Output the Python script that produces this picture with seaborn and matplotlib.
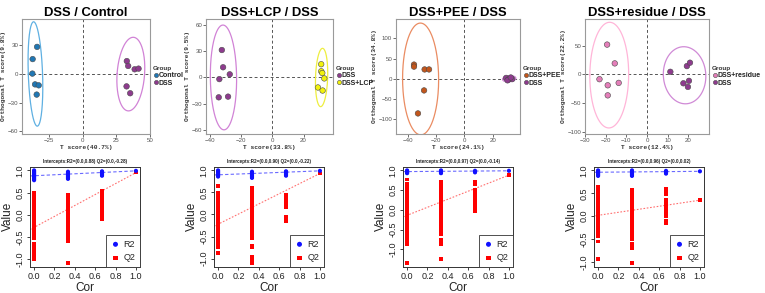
import numpy as np
import pandas as pd
import matplotlib
matplotlib.use("Agg")
import matplotlib.pyplot as plt
import seaborn as sns

sns.set_theme(style="white")
plt.rcParams['font.family'] = ['Liberation Sans', 'DejaVu Sans']

W, H = 765, 293

# ---------------- score plots (OPLS-DA) ----------------
titles = ["DSS / Control", "DSS+LCP / DSS", "DSS+PEE / DSS", "DSS+residue / DSS"]
x_labels = ["T score(40.7%)", "T score(33.8%)", "T score(24.1%)", "T score(12.4%)"]
y_labels = ["Orthogonal T score(9.8%)", "Orthogonal T score(9.5%)",
            "Orthogonal T score(34.8%)", "Orthogonal T score(22.2%)"]

p1_groups = ["Control", "DSS"]
p1_a_x = [-33.8, -37.1, -37.3, -35.3, -32.6, -34.1]
p1_a_y = [28.3, 15.5, 0.3, -11.0, -12.0, -21.7]
p1_b_x = [32.8, 33.8, 38.6, 41.5, 32.6, 35.3]
p1_b_y = [13.4, 8.3, 4.8, 5.5, -13.1, -20.3]

p2_groups = ["DSS", "DSS+LCP"]
p2_a_x = [-32.6, -31.8, -27.5, -34.2, -34.6, -28.6]
p2_a_y = [31.4, 11.6, 3.5, -2.0, -22.9, -22.1]
p2_b_x = [31.4, 31.4, 32.1, 33.4, 29.3, 32.3]
p2_b_y = [15.1, 7.0, 5.0, -1.2, -11.6, -15.1]

p3_groups = ["DSS+PEE", "DSS"]
p3_a_x = [-35.5, -35.5, -28.0, -24.9, -28.4, -32.7]
p3_a_y = [35.0, 30.0, 23.0, 23.0, -29.0, -86.0]
p3_b_x = [29.5, 31.0, 32.5, 33.8, 30.5, 32.8]
p3_b_y = [2.0, -2.0, 1.0, -1.0, -4.0, 3.0]

p4_groups = ["DSS+residue", "DSS"]
p4_a_x = [-19.3, -15.6, -23.0, -13.7, -19.0, -19.0]
p4_a_y = [52.0, 19.3, -8.2, -14.6, -18.8, -36.3]
p4_b_x = [11.3, 19.3, 20.8, 20.3, 17.6, 19.8]
p4_b_y = [4.7, 14.6, 20.5, -11.0, -15.3, -21.6]

score_xticks = [[-25, 0, 25, 50], [-40, -20, 0, 20], [-40, -20, 0, 20], [-30, -20, -10, 0, 10, 20]]
score_yticks = [[-60, -30, 0, 30], [-60, -30, 0, 30, 60], [-100, -50, 0, 50, 100], [-100, -50, 0, 50]]
score_xlim = [(-45, 50), (-42.8, 39), (-48.2, 39.3), (-30, 30)]
score_ylim = [(-63, 57.5), (-65, 67), (-137, 148), (-103.5, 96.5)]

point_colors = [["#2077b4", "#8e3b8e"], ["#8e3b8e", "#f2f20c"],
                ["#c2561c", "#8e3b8e"], ["#e47eb9", "#8e3b8e"]]
ellipse_colors = [["#5fb0e2", "#d183d6"], ["#d183d6", "#eeee40"],
                  ["#ea8c62", "#d183d6"], ["#ffb5d8", "#d08ad6"]]

score_sets = [
    (p1_groups, p1_a_x, p1_a_y, p1_b_x, p1_b_y),
    (p2_groups, p2_a_x, p2_a_y, p2_b_x, p2_b_y),
    (p3_groups, p3_a_x, p3_a_y, p3_b_x, p3_b_y),
    (p4_groups, p4_a_x, p4_a_y, p4_b_x, p4_b_y),
]

# ---------------- permutation plots ----------------
perm_titles = ["Intercepts:R2=(0.0,0.88) Q2=(0.0,-0.28)",
               "Intercepts:R2=(0.0,0.90) Q2=(0.0,-0.22)",
               "Intercepts:R2=(0.0,0.97) Q2=(0.0,-0.14)",
               "Intercepts:R2=(0.0,0.96) Q2=(0.0,0.02)"]
r2_intercepts = [0.88, 0.90, 0.97, 0.96]
q2_intercepts = [-0.28, -0.22, -0.14, 0.02]
cor_levels = [0.0, 0.333, 0.667, 1.0]

# panel 1
a_r2_0 = [1.0, 0.98, 0.96, 0.94, 0.92, 0.9, 0.88, 0.86, 0.84, 0.82, 0.8, 0.78]
a_r2_1 = [0.97, 0.95, 0.93, 0.91, 0.89, 0.87, 0.85, 0.83, 0.81]
a_r2_2 = [0.98, 0.96, 0.94, 0.92, 0.9, 0.88]
a_r2_3 = [0.99]
a_q2_0 = [0.5, 0.46, 0.42, 0.38, 0.33, 0.3, 0.26, 0.22, 0.18, 0.14, 0.1, 0.06, 0.02,
          -0.02, -0.06, -0.1, -0.14, -0.18, -0.22, -0.26, -0.3, -0.34, -0.38, -0.42,
          -0.46, -0.5, -0.52, -0.65, -0.7, -0.75, -0.8, -0.88, -0.92, -0.97, -1.0]
a_q2_1 = [0.45, 0.41, 0.37, 0.33, 0.29, 0.25, 0.21, 0.17, 0.13, 0.09, 0.05, 0.01, -0.03,
          -0.07, -0.11, -0.15, -0.19, -0.23, -0.27, -0.31, -0.35, -0.39, -0.43, -0.47,
          -0.51, -0.55, -0.6, -1.08]
a_q2_2 = [0.55, 0.51, 0.47, 0.43, 0.39, 0.35, 0.31, 0.27, 0.22, 0.17, 0.12, 0.05, 0.0,
          -0.05, -0.1]
a_q2_3 = [0.95]

# panel 2
b_r2_0 = [1.0, 0.98, 0.96, 0.94, 0.92, 0.9, 0.88, 0.86]
b_r2_1 = [0.97, 0.95, 0.93, 0.91, 0.89, 0.87, 0.85, 0.83]
b_r2_2 = [0.98, 0.96, 0.94, 0.92, 0.9, 0.88]
b_r2_3 = [0.99]
b_q2_0 = [0.65, 0.5, 0.46, 0.42, 0.38, 0.34, 0.3, 0.26, 0.22, 0.18, 0.14, 0.1, 0.06, 0.02,
          -0.02, -0.06, -0.1, -0.14, -0.18, -0.22, -0.26, -0.3, -0.34, -0.38, -0.42,
          -0.46, -0.52, -0.58, -0.63, -0.68, -0.75, -0.87]
b_q2_1 = [0.6, 0.56, 0.52, 0.48, 0.44, 0.4, 0.36, 0.32, 0.28, 0.24, 0.2, 0.16, 0.12, 0.08,
          0.04, 0.0, -0.04, -0.08, -0.12, -0.16, -0.2, -0.24, -0.28, -0.32, -0.36, -0.4,
          -0.44, -0.48, -0.53, -0.7, -0.75, -0.95, -1.03, -1.1]
b_q2_2 = [0.45, 0.4, 0.32, 0.28, 0.24, 0.2, 0.16, -0.05, -0.1, -0.15]
b_q2_3 = [0.93]

# panel 3
c_r2_0 = [1.0, 0.98, 0.96, 0.94, 0.93]
c_r2_1 = [1.0, 0.98, 0.96, 0.94, 0.93]
c_r2_2 = [0.99, 0.97, 0.95]
c_r2_3 = [0.99]
c_q2_0 = [0.77, 0.65, 0.6, 0.56, 0.52, 0.48, 0.44, 0.4, 0.36, 0.32, 0.28, 0.24, 0.2, 0.16,
          0.12, 0.08, 0.04, 0.0, -0.04, -0.08, -0.12, -0.16, -0.2, -0.24, -0.28, -0.32,
          -0.36, -0.4, -0.44, -0.5, -0.57, -0.64, -0.72, -0.8, -0.86, -1.35]
c_q2_1 = [0.72, 0.68, 0.64, 0.6, 0.56, 0.52, 0.48, 0.44, 0.4, 0.36, 0.32, 0.28, 0.24, 0.2,
          0.16, 0.12, 0.08, 0.04, 0.0, -0.04, -0.08, -0.12, -0.16, -0.2, -0.24, -0.28,
          -0.32, -0.36, -0.4, -0.44, -0.5, -0.57, -0.62, -0.76, -0.86, -1.25]
c_q2_2 = [0.7, 0.65, 0.5, 0.46, 0.42, 0.38, 0.34, 0.3, 0.26, 0.22, 0.18, 0.14, 0.1, 0.05,
          -0.04]
c_q2_3 = [0.88]

# panel 4
d_r2_0 = [1.0, 0.98, 0.96, 0.94, 0.92, 0.9, 0.88]
d_r2_1 = [1.0, 0.98, 0.96, 0.94, 0.92, 0.9, 0.88]
d_r2_2 = [0.99, 0.97, 0.95, 0.93]
d_r2_3 = [0.98]
d_q2_0 = [0.65, 0.61, 0.57, 0.53, 0.49, 0.45, 0.41, 0.37, 0.33, 0.29, 0.25, 0.21, 0.17,
          0.13, 0.09, 0.05, 0.01, -0.03, -0.07, -0.11, -0.15, -0.19, -0.23, -0.27, -0.31,
          -0.35, -0.39, -0.44, -0.55, -0.93]
d_q2_1 = [0.58, 0.54, 0.5, 0.46, 0.42, 0.38, 0.34, 0.3, 0.26, 0.22, 0.18, 0.14, 0.1, 0.06,
          0.02, -0.02, -0.07, -0.14, -0.22, -0.29, -0.36, -0.44, -0.5, -0.61, -0.7, -1.02]
d_q2_2 = [0.6, 0.54, 0.48, 0.35, 0.28, 0.21, 0.15, 0.1, 0.05, 0.0, -0.1, -0.15]
d_q2_3 = [0.35]

perm_sets = [
    ([a_r2_0, a_r2_1, a_r2_2, a_r2_3], [a_q2_0, a_q2_1, a_q2_2, a_q2_3]),
    ([b_r2_0, b_r2_1, b_r2_2, b_r2_3], [b_q2_0, b_q2_1, b_q2_2, b_q2_3]),
    ([c_r2_0, c_r2_1, c_r2_2, c_r2_3], [c_q2_0, c_q2_1, c_q2_2, c_q2_3]),
    ([d_r2_0, d_r2_1, d_r2_2, d_r2_3], [d_q2_0, d_q2_1, d_q2_2, d_q2_3]),
]


def conf_ellipse(x, y, k=2.9, n=200):
    x = np.asarray(x, float)
    y = np.asarray(y, float)
    cov = np.cov(x, y)
    vals, vecs = np.linalg.eigh(cov)
    t = np.linspace(0, 2 * np.pi, n)
    circ = np.vstack([np.cos(t), np.sin(t)])
    pts = vecs @ (np.sqrt(np.maximum(vals, 0))[:, None] * circ) * k
    return x.mean() + pts[0], y.mean() + pts[1]


def rect(left, top, w, h):
    return [left / W, 1 - (top + h) / H, w / W, h / H]


fig = plt.figure(figsize=(W / 100, H / 100), dpi=100)
fig.patch.set_facecolor("white")

top_lefts = [22, 206, 396, 585]
top_widths = [128, 127, 124, 124]
bot_lefts = [30, 214, 403, 594]

mono = ['Liberation Mono', 'DejaVu Sans Mono']

for i in range(4):
    groups, ax_, ay_, bx_, by_ = score_sets[i]
    df = pd.DataFrame({
        "x": list(ax_) + list(bx_),
        "y": list(ay_) + list(by_),
        "Group": [groups[0]] * len(ax_) + [groups[1]] * len(bx_),
    })
    ax = fig.add_axes(rect(top_lefts[i], 19, top_widths[i], 115))
    ax.axhline(0, color="#555555", lw=0.7, ls=(0, (3, 2.5)), zorder=1)
    ax.axvline(0, color="#555555", lw=0.7, ls=(0, (3, 2.5)), zorder=1)
    for g, xs, ys, c in [(groups[0], ax_, ay_, ellipse_colors[i][0]),
                         (groups[1], bx_, by_, ellipse_colors[i][1])]:
        ex, ey = conf_ellipse(xs, ys)
        ax.plot(ex, ey, color=c, lw=0.9, zorder=2)
    pal = {groups[0]: point_colors[i][0], groups[1]: point_colors[i][1]}
    sns.scatterplot(data=df, x="x", y="y", hue="Group", hue_order=groups,
                    palette=pal, s=16, edgecolor="#4a4a4a", linewidth=0.4,
                    ax=ax, zorder=3)
    ax.set_xlim(score_xlim[i])
    ax.set_ylim(score_ylim[i])
    ax.set_xticks(score_xticks[i])
    ax.set_yticks(score_yticks[i])
    ax.tick_params(axis="both", labelsize=4.4, colors="#555555", length=2,
                   width=0.6, pad=0.8, direction="out", bottom=True, left=True)
    for sp in ax.spines.values():
        sp.set_color("#9a9a9a")
        sp.set_linewidth(0.8)
    ax.set_xlabel(x_labels[i], fontsize=4.5, family=mono, fontweight="bold",
                  color="#333333", labelpad=1.2)
    ax.set_ylabel(y_labels[i], fontsize=4.5, family=mono, fontweight="bold",
                  color="#333333", labelpad=0.8)
    ax.set_title(titles[i], fontsize=9.4, fontweight="bold", color="black", pad=2.5)
    sns.move_legend(ax, "center left", bbox_to_anchor=(1.0, 0.5), frameon=False,
                    title="Group", fontsize=5.0, title_fontsize=4.6,
                    handletextpad=-0.1, borderaxespad=0.15, labelspacing=0.1,
                    markerscale=0.75, handlelength=1.0, borderpad=0.2)
    leg = ax.get_legend()
    leg.get_title().set_fontweight("bold")
    leg.get_title().set_color("#333333")
    leg._legend_box.align = "left"
    for t in leg.get_texts():
        t.set_fontweight("bold")
        t.set_color("#222222")

for i in range(4):
    r2_lists, q2_lists = perm_sets[i]
    rows = []
    for lvl, r2v, q2v in zip(cor_levels, r2_lists, q2_lists):
        rows += [(lvl, v, "R2") for v in r2v]
        rows += [(lvl, v, "Q2") for v in q2v]
    pdf = pd.DataFrame(rows, columns=["Cor", "Value", "Stat"])
    ax = fig.add_axes(rect(bot_lefts[i], 166.7, 110, 100))
    ax.set_facecolor("white")
    x0, x1 = -0.04, 1.04
    r2_end = r2_lists[3][0]
    q2_end = q2_lists[3][0]
    xs = np.array([x0, 1.0])
    ax.plot(xs, r2_intercepts[i] + (r2_end - r2_intercepts[i]) * xs,
            color="#6a6aff", lw=0.8, ls=(0, (3, 2)), zorder=1)
    ax.plot(xs, q2_intercepts[i] + (q2_end - q2_intercepts[i]) * xs,
            color="#ff7070", lw=0.8, ls=(0, (1.5, 1.5)), zorder=1)
    sns.scatterplot(data=pdf[pdf.Stat == "R2"], x="Cor", y="Value", color="#1010ff",
                    marker="o", s=9, edgecolor="none", ax=ax, label="R2", zorder=3)
    sns.scatterplot(data=pdf[pdf.Stat == "Q2"], x="Cor", y="Value", color="#ff0000",
                    marker="s", s=7, edgecolor="none", ax=ax, label="Q2", zorder=2)
    vmin = pdf.Value.min()
    vmax = pdf.Value.max()
    pad = 0.04 * (vmax - vmin)
    ax.set_xlim(x0, x1)
    ax.set_ylim(vmin - pad, vmax + pad)
    ax.set_xticks([0.0, 0.2, 0.4, 0.6, 0.8, 1.0])
    ax.set_xticklabels(["0.0", "0.2", "0.4", "0.6", "0.8", "1.0"])
    ax.set_yticks([-1.0, -0.5, 0.0, 0.5, 1.0])
    ax.set_yticklabels(["-1.0", "-0.5", "0.0", "0.5", "1.0"], rotation=90, va="center")
    ax.tick_params(axis="both", labelsize=6.5, colors="#222222", length=2.5, width=0.6,
                   pad=1.5, direction="out", bottom=True, left=True)
    for sp in ax.spines.values():
        sp.set_color("#333333")
        sp.set_linewidth(0.7)
    ax.set_xlabel("Cor", fontsize=8.5, color="#222222", labelpad=0.5)
    ax.set_ylabel("Value", fontsize=8.5, color="#222222", labelpad=1)
    ax.set_title(perm_titles[i], fontsize=3.3, fontweight="bold", color="#222222", pad=3)
    leg = ax.legend(loc="lower right", borderaxespad=0, fancybox=False,
                    edgecolor="#333333", fontsize=6.5, handletextpad=0.3,
                    borderpad=0.5, labelspacing=0.5, markerscale=1.2,
                    handlelength=1.2, framealpha=1)
    leg.get_frame().set_linewidth(0.6)

fig.savefig("out.png", dpi=100, facecolor="white")
